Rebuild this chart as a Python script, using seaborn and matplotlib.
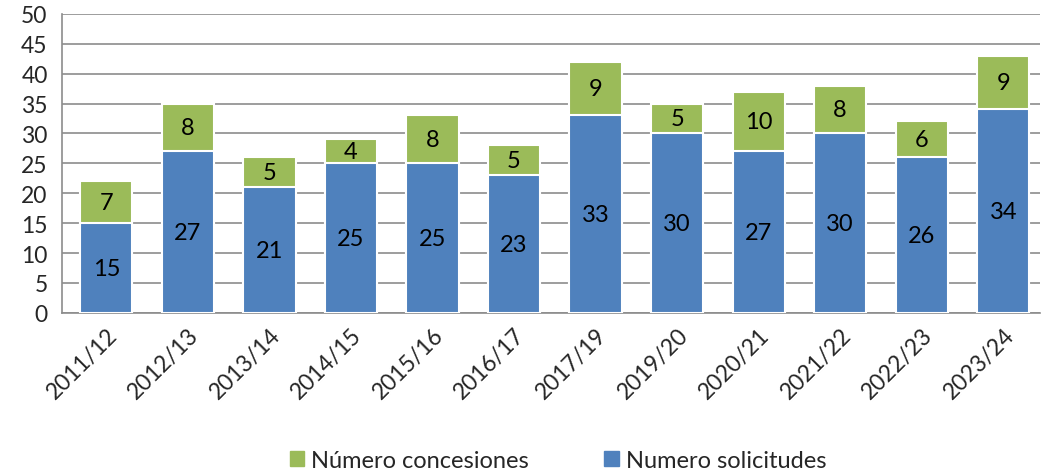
import matplotlib
matplotlib.use('Agg')
import matplotlib.pyplot as plt
import matplotlib.patches as mpatches
import pandas as pd
import seaborn as sns

# chart data
periodos = ['2011/12', '2012/13', '2013/14', '2014/15', '2015/16', '2016/17',
            '2017/19', '2019/20', '2020/21', '2021/22', '2022/23', '2023/24']
solicitudes = [15, 27, 21, 25, 25, 23, 33, 30, 27, 30, 26, 34]
concesiones = [7, 8, 5, 4, 8, 5, 9, 5, 10, 8, 6, 9]

azul = '#4F81BD'
verde = '#9BBB59'

sns.set_theme(style='white')
plt.rcParams['font.family'] = ['Lato', 'DejaVu Sans']

df = pd.DataFrame({'Periodo': periodos, 'Solicitudes': solicitudes,
                   'Concesiones': concesiones})
df['Total'] = df['Solicitudes'] + df['Concesiones']

fig = plt.figure(figsize=(10.43, 4.77), dpi=100)
ax = fig.add_axes([0.059, 0.342, 0.938, 0.627])

# stacked bars: draw total (green) first, then the blue base over it
sns.barplot(data=df, x='Periodo', y='Total', color=verde, width=0.64,
            edgecolor='white', linewidth=1.5, saturation=1, ax=ax, zorder=3)
sns.barplot(data=df, x='Periodo', y='Solicitudes', color=azul, width=0.64,
            edgecolor='white', linewidth=1.5, saturation=1, ax=ax, zorder=3)

for i, row in df.iterrows():
    ax.text(i, row['Solicitudes'] / 2, str(row['Solicitudes']), ha='center',
            va='center', fontsize=17, color='black', zorder=4)
    ax.text(i, row['Solicitudes'] + row['Concesiones'] / 2, str(row['Concesiones']),
            ha='center', va='center', fontsize=17, color='black', zorder=4)

ax.set_ylim(0, 50)
ax.set_yticks(range(0, 51, 5))
ax.set_xlim(-0.55, 11.45)
ax.yaxis.grid(True, color='#8c8c8c', linewidth=1.2, zorder=0)
ax.set_axisbelow(True)
ax.set_xlabel('')
ax.set_ylabel('')
for s in ['top', 'right']:
    ax.spines[s].set_visible(False)
ax.spines['left'].set_color('#8c8c8c')
ax.spines['left'].set_linewidth(1.2)
ax.spines['bottom'].set_color('#8c8c8c')
ax.spines['bottom'].set_linewidth(1.2)
ax.tick_params(axis='y', labelsize=16.5, pad=4, left=False)
ax.tick_params(axis='x', labelsize=16.5, bottom=False, pad=2)
plt.setp(ax.get_xticklabels(), rotation=45, ha='right', rotation_mode='anchor')

handles = [mpatches.Patch(color=verde, label='Número concesiones'),
           mpatches.Patch(color=azul, label='Numero solicitudes')]
fig.legend(handles=handles, loc='center', bbox_to_anchor=(0.535, 0.032), ncol=2,
           frameon=False, fontsize=17, handlelength=0.6, handleheight=0.6,
           handletextpad=0.3, columnspacing=3.2)

fig.savefig('out.png', dpi=100)
